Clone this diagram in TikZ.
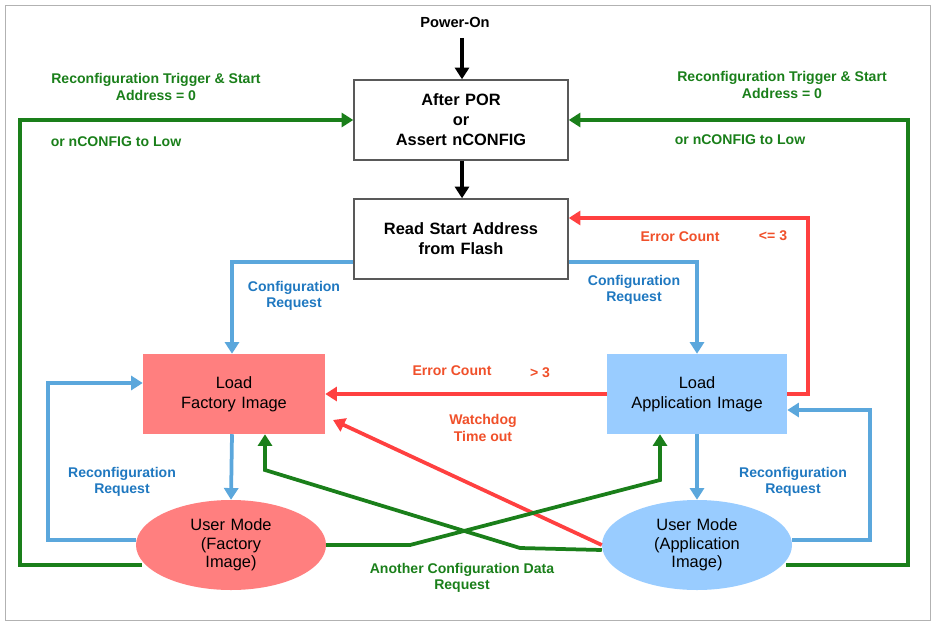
\documentclass[tikz,border=0pt]{standalone}
\usepackage{fontspec}
\setmainfont{Liberation Sans}
\usetikzlibrary{shapes.geometric,arrows.meta}
\definecolor{myred}{HTML}{FF7F7F}
\definecolor{myblue}{HTML}{99CCFF}
\definecolor{lineblue}{HTML}{5BA7DC}
\definecolor{linered}{HTML}{FF4040}
\definecolor{linegreen}{HTML}{1A7F1A}
\definecolor{textblue}{HTML}{1F78C0}
\definecolor{textred}{HTML}{F0502A}

\tikzstyle{arrow} = [line width=3.2pt,-{Triangle[length=10pt,width=12pt]}]
\tikzstyle{box} = [
        rectangle,
        minimum width=6.42cm,
        minimum height=2.4cm,
        text width=6cm,
        text centered,
        font=\fontsize{14}{17}\selectfont\bfseries,
    ]
\tikzstyle{mode} = [
        ellipse,
        minimum width=5.7cm,
        minimum height=2.7cm,
        text width=3.4cm,
        text centered,
        font=\fontsize{14}{16}\selectfont,
    ]
\tikzstyle{lbl} = [
        text centered,
        align=center,
        font=\fontsize{12}{14}\selectfont\bfseries,
    ]

\begin{document}
\begin{tikzpicture}[x=0.03cm,y=-0.03cm]
            \useasboundingbox (0,0) rectangle (936,625);
            \draw [gray!60] (5,5) rectangle (930,620);
            % states
            \node [lbl, font=\fontsize{12.5}{14}\selectfont\bfseries] (power) at (455,22) {Power-On};
            \node [box, draw=gray!70!black, line width=1.2pt] (por) at (461,120) {After POR\\or\\Assert nCONFIG};
            \node [box, draw=gray!70!black, line width=1.2pt] (read) at (461,239) {Read Start Address\\from Flash};
            \node [box, fill=myred, minimum width=5.46cm, text width=5cm] (factory) at (234,394) {\mdseries Load\\Factory Image};
            \node [box, fill=myblue, minimum width=5.4cm, text width=5cm] (app) at (697,394) {\mdseries Load\\Application Image};
            \node [mode, fill=myred] (ufactory) at (231,545) {User Mode\\(Factory\\Image)};
            \node [mode, fill=myblue] (uapp) at (697,545) {User Mode\\(Application\\Image)};
            \coordinate (pwr) at (462,38);
            \coordinate (gl) at (142,565);
            \coordinate (gr) at (786,565);
            % black
            \draw [arrow, black] (pwr) -- (por.north -| pwr);
            \draw [arrow, black] (por.south -| pwr) -- (read.north -| pwr);
            % blue
            \draw [arrow, lineblue] (read.west |- 0,262) -| (factory.north -| 232,0);
            \draw [arrow, lineblue] (read.east |- 0,262) -| (app.north);
            \draw [arrow, lineblue] (factory.south -| 232,0) -- (ufactory.north);
            \draw [arrow, lineblue] (app.south) -- (uapp.north);
            \draw [arrow, lineblue] (ufactory.west |- 0,540) -- (48,540) |- (factory.west |- 0,383);
            \draw [arrow, lineblue] (uapp.east |- 0,540) -- (870,540) |- (app.east |- 0,410);
            % red
            \draw [arrow, linered] (app.west) -- (factory.east);
            \draw [arrow, linered] (app.east) -- (808,394) |- (read.east |- 0,218);
            \draw [arrow, linered] (uapp.west |- 0,545) -- (333,420);
            % green
            \draw [arrow, linegreen] (ufactory.east) -- (410,545) -- (660,480) -- (factory.south -| 660,0);
            \draw [arrow, linegreen] (uapp.west |- 0,550) -- (520,548) -- (265,470) -- (factory.south -| 265,0);
            \draw [arrow, linegreen] (gl) -- (20,565) |- (por.west);
            \draw [arrow, linegreen] (gr) -- (908,565) |- (por.east);
            % labels
            \node [lbl, textblue] (l1) at (294,296) {Configuration\\Request};
            \node [lbl, textblue] (l2) at (634,290) {Configuration\\Request};
            \node [lbl, textblue] (l3) at (122,482) {Reconfiguration\\Request};
            \node [lbl, textblue] (l4) at (793,482) {Reconfiguration\\Request};
            \node [lbl, textred] (l5) at (452,371) {Error Count};
            \node [lbl, textred] (l6) at (540,373) {> 3};
            \node [lbl, textred] (l7) at (680,237) {Error Count};
            \node [lbl, textred] (l8) at (773,236) {<= 3};
            \node [lbl, textred] (l9) at (483,428) {Watchdog\\Time out};
            \node [lbl, linegreen] (l10) at (156,87) {Reconfiguration Trigger \& Start\\Address = 0};
            \node [lbl, linegreen] (l11) at (116,142) {or nCONFIG to Low};
            \node [lbl, linegreen] (l12) at (782,85) {Reconfiguration Trigger \& Start\\Address = 0};
            \node [lbl, linegreen] (l13) at (740,140) {or nCONFIG to Low};
            \node [lbl, linegreen] (l14) at (462,578) {Another Configuration Data\\Request};
        \end{tikzpicture}
\end{document}
